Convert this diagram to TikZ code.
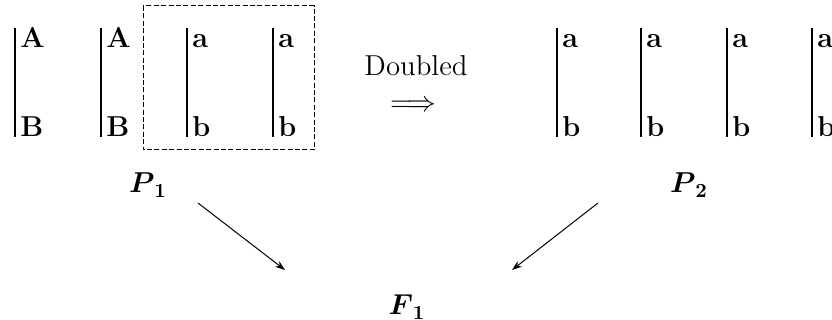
\documentclass[tikz,border=0pt]{standalone}
\usepackage{amsmath,amssymb}
\usepackage{tikz}
\usetikzlibrary{arrows.meta}

\begin{document}
\begin{tikzpicture}[
      x=0.5pt, y=-0.5pt,
      every node/.style={font=\Large, inner sep=0pt},
      strand/.style={line width=0.8pt},
      lbl/.style={anchor=base west, font=\Large\bfseries, xshift=2.5pt},
      dashbox/.style={line width=0.5pt, dash pattern=on 2.5pt off 1.2pt},
      arr/.style={-{Stealth[length=5pt,width=3.5pt]}, line width=0.5pt},
    ]
    \useasboundingbox (0,0) rectangle (832,320);

    % Strands of P1
    \foreach \n/\x/\up/\dn in {1/15/A/B, 2/101/A/B, 3/187/a/b, 4/273/a/b} {
      \coordinate (l\n top) at (\x,28);
      \coordinate (l\n bot) at (\x,137);
      \draw[strand] (l\n top) -- (l\n bot);
      \node[lbl] (l\n up) at (\x,48) {\up};
      \node[lbl] (l\n dn) at (l\n bot) {\dn};
    }

    % Doubled part
    \draw[dashbox] (143,6) rectangle (314,150);

    % Strands of P2
    \foreach \n/\x in {1/557, 2/641, 3/727, 4/812} {
      \coordinate (r\n top) at (\x,28);
      \coordinate (r\n bot) at (\x,137);
      \draw[strand] (r\n top) -- (r\n bot);
      \node[lbl] (r\n up) at (\x,48) {a};
      \node[lbl] (r\n dn) at (r\n bot) {b};
    }

    % Doubling step
    \node[anchor=base] (dbl) at (416,76) {Doubled};
    \node (imp) at (413,106) {$\Longrightarrow$};

    % Names
    \node (P1) at (148,185) {$\boldsymbol{P}_{\boldsymbol{1}}$};
    \node (P2) at (689,185) {$\boldsymbol{P}_{\boldsymbol{2}}$};
    \node (F1) at (407,307) {$\boldsymbol{F}_{\boldsymbol{1}}$};

    % Arrows to F1
    \coordinate (p1tail) at (198,203);
    \coordinate (p1head) at (285,270);
    \coordinate (p2tail) at (598,203);
    \coordinate (p2head) at (512,270);
    \draw[arr] (p1tail) -- (p1head);
    \draw[arr] (p2tail) -- (p2head);
\end{tikzpicture}
\end{document}
